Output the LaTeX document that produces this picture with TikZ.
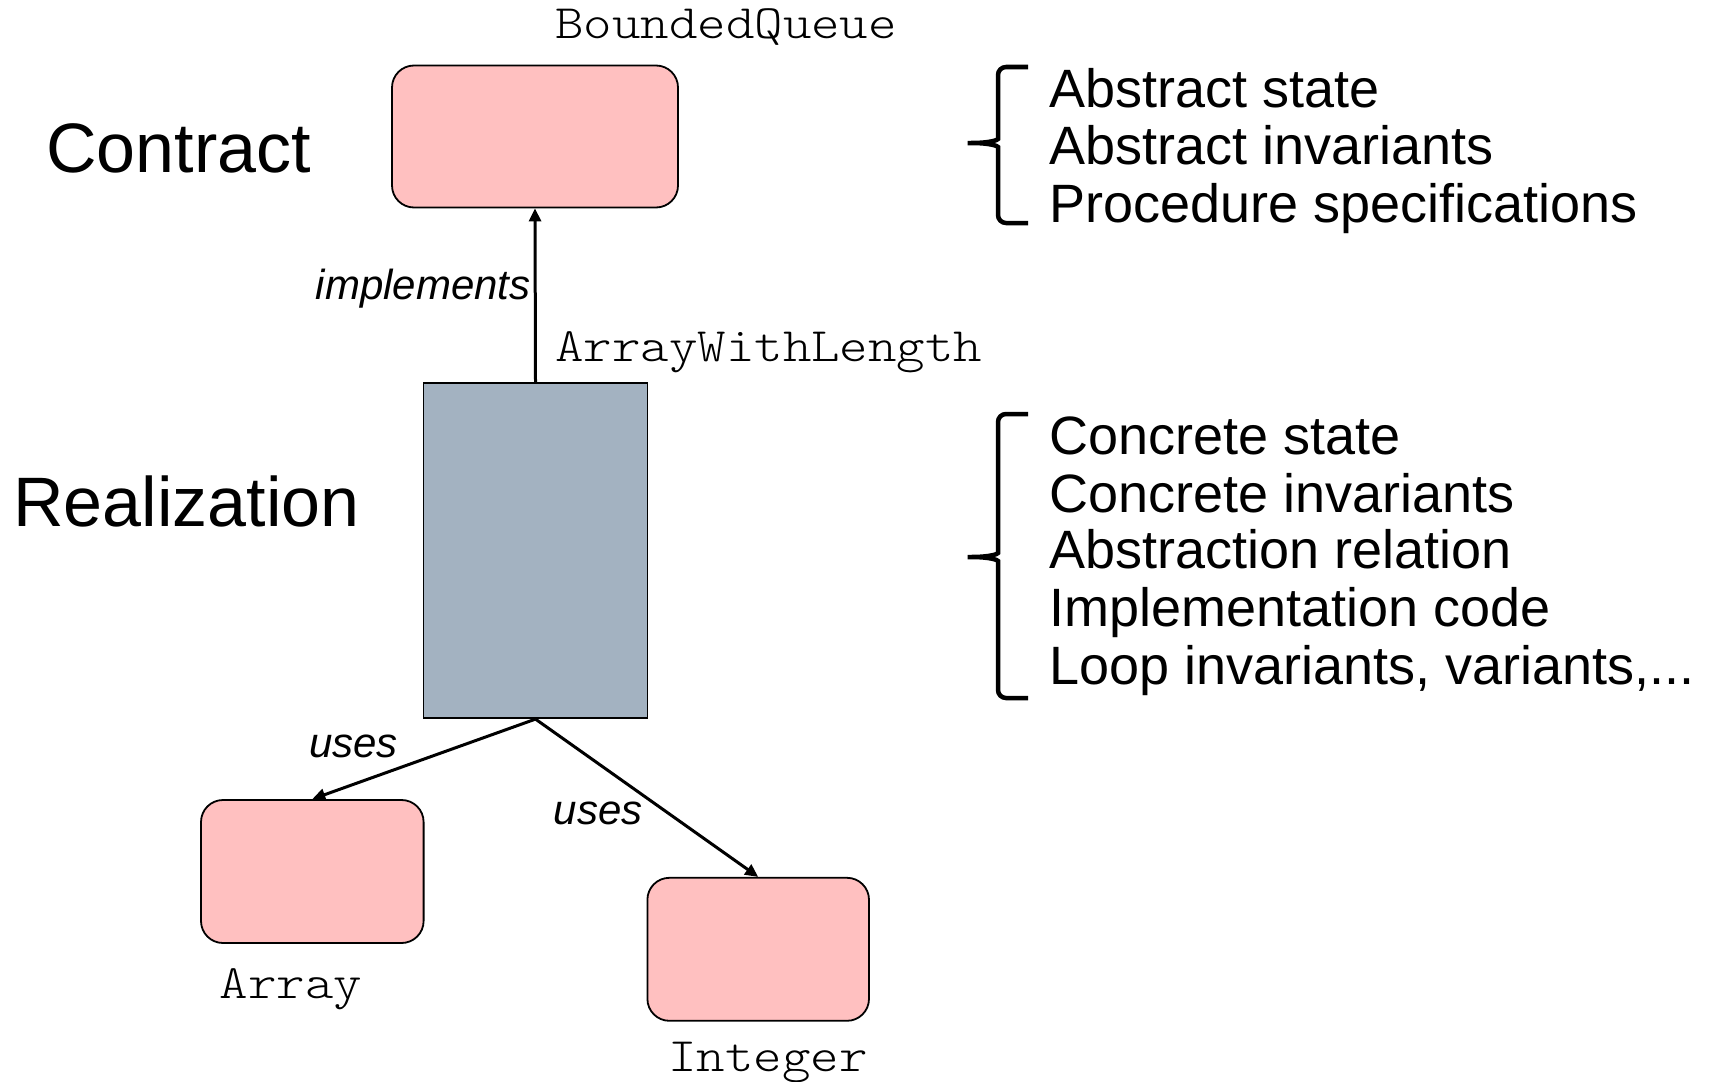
\documentclass[tikz,border=0pt]{standalone}
\usepackage{fontspec}
\setmainfont{Liberation Sans}
\newfontfamily\codefont[FakeStretch=1.13]{lmmonolt10-regular.otf}
\usetikzlibrary{arrows.meta}
\definecolor{modpink}{RGB}{255,192,192}
\definecolor{modgrey}{RGB}{163,178,193}
\tikzset{
  module/.style={draw=black, line width=1.8pt, fill=modpink, rounded corners=22pt, inner sep=0pt},
  realbox/.style={draw=black, line width=1.8pt, fill=modgrey, inner sep=0pt},
  link/.style={line width=3pt, -{Triangle[length=13pt,width=12pt]}},
  modname/.style={font=\fontsize{48}{48}\selectfont\codefont, inner sep=0pt, anchor=base west},
  rel/.style={font=\fontsize{42}{42}\selectfont\itshape, inner sep=0pt, anchor=base west},
  level/.style={font=\fontsize{70}{70}\selectfont, inner sep=0pt, anchor=base west},
  item/.style={font=\fontsize{54}{54}\selectfont, inner sep=0pt, anchor=base west},
  brace/.style={line width=4.5pt, rounded corners=8pt}
}
\begin{document}
\begin{tikzpicture}[x=1pt, y=-1pt]
\useasboundingbox (0,0) rectangle (1712,1081);

% modules
\node[module, minimum width=286pt, minimum height=142pt] (bq) at (535,136.5) {};
\node[realbox, minimum width=224pt, minimum height=335pt] (awl) at (535.5,550.7) {};
\node[module, minimum width=222.6pt, minimum height=143pt] (arr) at (312.3,871.5) {};
\node[module, minimum width=221.6pt, minimum height=143pt] (int) at (758.2,949.3) {};

% module names
\node[modname] (bqname) at (555,38) {BoundedQueue};
\node[modname] (awlname) at (555,361) {ArrayWithLength};
\node[modname] (arrname) at (219.5,998) {Array};
\node[modname] (intname) at (668,1071) {Integer};

% levels
\node[level] (contract) at (46,172.5) {Contract};
\node[level] (realization) at (13,526) {Realization};

% relations
\draw[link] (awl.north) -- (bq.south);
\draw[link] (awl.south) -- (arr.north);
\draw[link] (awl.south) -- (int.north);
\node[rel] (impl) at (315.5,299) {implements};
\node[rel] (uses1) at (309,757) {uses};
\node[rel] (uses2) at (553.5,824) {uses};

% contract contents
\draw[brace] (1028,67) -- (998,67) -- (998,131)
  .. controls (998,140) and (990,143) .. (963,143)
  .. controls (990,143) and (998,146) .. (998,155) -- (998,223) -- (1028,223);
\node[item] (c1) at (1049,107) {Abstract state};
\node[item] (c2) at (1049,164.9) {Abstract invariants};
\node[item] (c3) at (1049,222.7) {Procedure specifications};

% realization contents
\draw[brace] (1028,414) -- (998,414) -- (998,545)
  .. controls (998,554) and (990,557) .. (963,557)
  .. controls (990,557) and (998,560) .. (998,569) -- (998,698) -- (1028,698);
\node[item] (r1) at (1049,454.2) {Concrete state};
\node[item] (r2) at (1049,512) {Concrete invariants};
\node[item] (r3) at (1049,568.8) {Abstraction relation};
\node[item] (r4) at (1049,626.7) {Implementation code};
\node[item] (r5) at (1049,684.6) {Loop invariants, variants,...};
\end{tikzpicture}
\end{document}
